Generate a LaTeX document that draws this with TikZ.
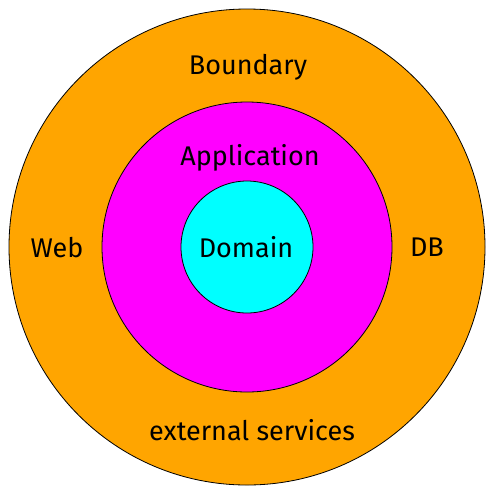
\documentclass[tikz,border=0pt]{standalone}
\usepackage{fontspec}
\setmainfont{Fira Sans}
\usepackage{tikz}
\usetikzlibrary{positioning}
\definecolor{boundary}{HTML}{FFA500}
\definecolor{application}{HTML}{FF00FF}
\definecolor{domain}{HTML}{00FFFF}
\tikzset{
  ring/.style={draw=black, line width=0.8pt},
  lbl/.style={font=\fontsize{27}{31}\selectfont, inner sep=0pt, anchor=center}
}
\begin{document}
\begin{tikzpicture}[x=1pt,y=-1pt]
  \useasboundingbox (0,0) rectangle (500,499);

  % Rings
  \filldraw[ring, fill=boundary] (247,247) circle (238);
  \filldraw[ring, fill=application] (247,247) circle (145);
  \filldraw[ring, fill=domain] (247,247) circle (66);

  % Labels
  \node[lbl] (bnd) at (248,67) {Boundary};
  \node[lbl] (app) at (250,158) {Application};
  \node[lbl] (dom) at (246,247) {Domain};
  \node[lbl] (web) at (57,248) {Web};
  \node[lbl] (db) at (427,247) {DB};
  \node[lbl] (ext) at (252,430) {external services};
\end{tikzpicture}
\end{document}
